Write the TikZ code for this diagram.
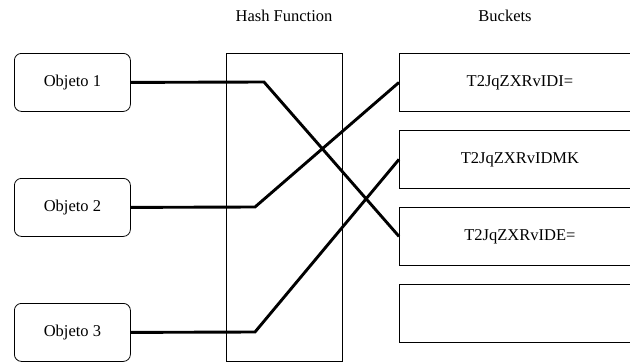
\documentclass[tikz,border=0pt]{standalone}
\usepackage{fontspec}
\setmainfont{Liberation Serif}
\begin{document}
\begin{tikzpicture}[x=1pt,y=-1pt,
  txt/.style={font=\fontsize{16.5}{20}\selectfont, inner sep=0pt},
  objbox/.style={txt, draw=black, line width=0.8pt, rounded corners=7pt, minimum width=116pt, minimum height=58pt, anchor=north west},
  bucketbox/.style={txt, draw=black, line width=0.8pt, minimum width=241pt, minimum height=58pt, anchor=north west},
  hashbox/.style={draw=black, line width=0.8pt, minimum width=116pt, minimum height=308pt, anchor=north west, inner sep=0pt},
  link/.style={line width=2.9pt, line join=miter}]
\useasboundingbox (0,0) rectangle (630,362);
\clip (0,0) rectangle (630,362);
\node[txt] (lhash) at (284,16) {Hash Function};
\node[txt] (lbuck) at (505,16) {Buckets};
\node[hashbox] (hash) at (226,53) {};
\node[objbox] (o1) at (14,53) {Objeto 1};
\node[objbox] (o2) at (14,178) {Objeto 2};
\node[objbox] (o3) at (14,303) {Objeto 3};
\node[bucketbox] (b1) at (399,53) {T2JqZXRvIDI=};
\node[bucketbox] (b2) at (399,130) {T2JqZXRvIDMK};
\node[bucketbox] (b3) at (399,207) {T2JqZXRvIDE=};
\node[bucketbox] (b4) at (399,284) {};
\coordinate (k1) at (264,82);
\coordinate (k2) at (255,207);
\coordinate (k3) at (255,332);
\draw[link] (o1.east) -- (k1) -- (b3.west);
\draw[link] (o2.east) -- (k2) -- (b1.west);
\draw[link] (o3.east) -- (k3) -- (b2.west);
\end{tikzpicture}
\end{document}
